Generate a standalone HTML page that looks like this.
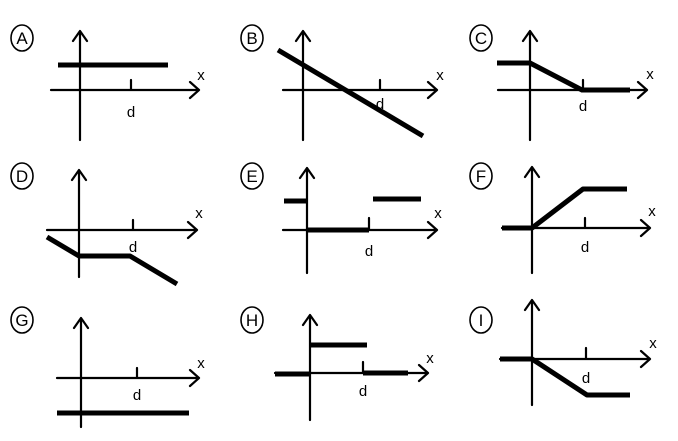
<!DOCTYPE html>
<html><head><meta charset="utf-8"><style>html,body{margin:0;padding:0;background:#fff}svg{display:block}</style></head><body>
<svg width="678" height="441" viewBox="0 0 678 441" xmlns="http://www.w3.org/2000/svg" font-family="Liberation Sans, sans-serif">
<g fill="none" stroke="#000" stroke-width="1.6">
<ellipse cx="22" cy="38" rx="11" ry="13"/><ellipse cx="252" cy="38" rx="11" ry="13"/><ellipse cx="481" cy="38" rx="11" ry="13"/>
<ellipse cx="22" cy="176" rx="11" ry="13"/><ellipse cx="252" cy="176" rx="11" ry="13"/><ellipse cx="481" cy="176" rx="11" ry="13"/>
<ellipse cx="22" cy="320" rx="11" ry="13"/><ellipse cx="252" cy="320" rx="11" ry="13"/><ellipse cx="481" cy="320" rx="11" ry="13"/>
</g>
<g font-size="17" text-anchor="middle" fill="#000">
<text x="22" y="44">A</text><text x="252" y="44">B</text><text x="481" y="44">C</text>
<text x="22" y="182">D</text><text x="252" y="182">E</text><text x="481" y="182">F</text>
<text x="22" y="326">G</text><text x="252" y="326">H</text><text x="481" y="326">I</text>
</g>
<g fill="none" stroke="#000" stroke-width="2.2" stroke-linecap="round" stroke-linejoin="round">
<path d="M80 140V31M73 41L80 31L87 41M51 90H199M190 82L199 90L190 98M131 80V90"/>
<path d="M303 140V31M296 41L303 31L310 41M283 90H437M428 82L437 90L428 98M380 80V90"/>
<path d="M530 140V31M523 41L530 31L537 41M498 90H647M638 82L647 90L638 98M583 80V90"/>
<path d="M79 277V170M72 180L79 170L86 180M47 230H197M188 222L197 230L188 238M133 220V230"/>
<path d="M307 273V168M300 178L307 168L314 178M283 230H437M428 222L437 230L428 238M369 218V230"/>
<path d="M532 273V167M525 177L532 167L539 177M502 228H650M641 220L650 228L641 236M585 218V228"/>
<path d="M81 427V318M74 328L81 318L88 328M57 378H199M190 370L199 378L190 386M137 368V378"/>
<path d="M310 420V315M303 325L310 315L317 325M275 373H428M419 365L428 373L419 381M363 362V373"/>
<path d="M532 405V300M525 310L532 300L539 310M500 359H650M641 351L650 359L641 367M586 348V359"/>
</g>
<g fill="none" stroke="#000" stroke-width="5" stroke-linejoin="round">
<path d="M58 65H168"/>
<path d="M278 50L423 136"/>
<path d="M497 63H530L582 90H630"/>
<path d="M47 237L79 256H130L177 284"/>
<path d="M284 201H307M307 230H369M373 199H421"/>
<path d="M502 228H532L583 189H627"/>
<path d="M57 413H189"/>
<path d="M275 374H310M310 345H367M363 373H408"/>
<path d="M500 359H532L587 395H630"/>
</g>
<g font-size="15" text-anchor="middle" fill="#000">
<text x="131" y="117">d</text><text x="380" y="109">d</text><text x="583" y="111">d</text>
<text x="133" y="252">d</text><text x="369" y="256">d</text><text x="585" y="252">d</text>
<text x="137" y="400">d</text><text x="363" y="396">d</text><text x="586" y="383">d</text>
<text x="201" y="80">x</text><text x="440" y="80">x</text><text x="650" y="79">x</text>
<text x="199" y="218">x</text><text x="438" y="218">x</text><text x="652" y="216">x</text>
<text x="201" y="368">x</text><text x="430" y="363">x</text><text x="653" y="348">x</text>
</g>
</svg>
</body></html>
